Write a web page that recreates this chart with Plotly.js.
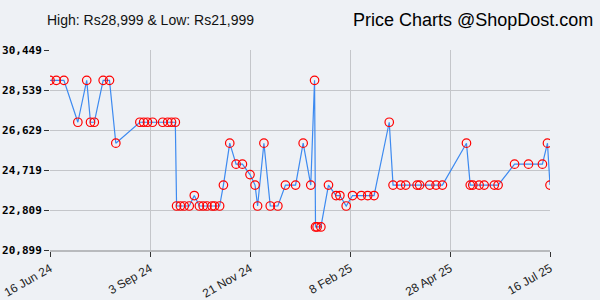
<!DOCTYPE html>
<html>
<head>
<meta charset="utf-8">
<script src="https://cdn.plot.ly/plotly-3.0.1.min.js"></script>
<style>html,body{margin:0;padding:0;background:#eef1f5;}#chart{width:600px;height:300px;}</style>
</head>
<body>
<div id="chart"></div>
<script>
const dates = [
 "2024-06-16","2024-06-21","2024-06-27","2024-07-08","2024-07-15","2024-07-18","2024-07-21","2024-07-28","2024-08-02","2024-08-07",
 "2024-08-26","2024-08-29","2024-09-01","2024-09-05","2024-09-13","2024-09-17","2024-09-20","2024-09-23",
 "2024-09-24","2024-09-27","2024-09-30","2024-10-04","2024-10-08",
 "2024-10-12","2024-10-15","2024-10-18","2024-10-22","2024-10-24","2024-10-28",
 "2024-10-31","2024-11-05","2024-11-10","2024-11-15","2024-11-21","2024-11-25","2024-11-27","2024-12-02",
 "2024-12-07","2024-12-13","2024-12-19","2024-12-27","2025-01-02","2025-01-08","2025-01-11",
 "2025-01-11 18:00","2025-01-13","2025-01-16","2025-01-22","2025-01-28","2025-01-31","2025-02-05",
 "2025-02-10","2025-02-17","2025-02-22","2025-02-27","2025-03-11",
 "2025-03-14","2025-03-20","2025-03-24","2025-04-02","2025-04-04","2025-04-12","2025-04-17","2025-04-22",
 "2025-05-11","2025-05-14","2025-05-16","2025-05-21","2025-05-25","2025-06-02","2025-06-05",
 "2025-06-18","2025-06-29","2025-07-10","2025-07-14","2025-07-16"
];
const prices = [
 28999,28999,28999,26999,28999,26999,26999,28999,28999,25999,
 26999,26999,26999,26999,26999,26999,26999,26999,
 22999,22999,22999,22999,23499,
 22999,22999,22999,22999,22999,22999,
 23999,25999,24999,24999,24499,23999,22999,25999,
 22999,22999,23999,23999,25999,23999,28999,
 21999,21999,21999,23999,23499,23499,22999,
 23499,23499,23499,23499,26999,
 23999,23999,23999,23999,23999,23999,23999,23999,
 25999,23999,23999,23999,23999,23999,23999,
 24999,24999,24999,25999,23999
];
const yTickVals = [20899,22809,24719,26629,28539,30449];
const yTickText = ["20,899","22,809","24,719","26,629","28,539","30,449"];
const xTickVals = ["2024-06-16","2024-09-03","2024-11-21","2025-02-08","2025-04-28","2025-07-16"];
const xTickText = ["16 Jun 24","3 Sep 24","21 Nov 24","8 Feb 25","28 Apr 25","16 Jul 25"];
const titleLeft = "High: Rs28,999 & Low: Rs21,999";
const titleRight = "Price Charts @ShopDost.com";

const trace = {
  x: dates, y: prices, type: "scatter", mode: "lines+markers",
  line: {color: "#3d8af0", width: 1.2},
  marker: {symbol: "circle-open", size: 8.5, color: "#ff0000", line: {width: 1.2, color: "#ff0000"}},
  hoverinfo: "skip"
};
const layout = {
  width: 600, height: 300,
  margin: {l: 50, r: 50, t: 50, b: 50},
  paper_bgcolor: "#eef1f5", plot_bgcolor: "#eef1f5",
  showlegend: false,
  xaxis: {
    type: "date", range: ["2024-06-16","2025-07-16"],
    tickmode: "array", tickvals: xTickVals, ticktext: xTickText,
    tickangle: -30, ticks: "outside", ticklen: 5, tickcolor: "#333",
    showgrid: true, gridcolor: "#c4c6ca", gridwidth: 1,
    showline: true, linecolor: "#b8babd", linewidth: 2,
    zeroline: false,
    tickfont: {family: "Liberation Sans, Arial, sans-serif", size: 12, color: "#222"}
  },
  yaxis: {
    range: [20899, 30449],
    tickmode: "array", tickvals: yTickVals, ticktext: yTickText,
    ticks: "outside", ticklen: 5, tickcolor: "#333",
    showgrid: true, gridcolor: "#c4c6ca", gridwidth: 1,
    showline: false, zeroline: false,
    tickfont: {family: "DejaVu Sans Mono, monospace", size: 11, color: "#000", weight: "bold"}
  },
  annotations: [
    {text: titleLeft, xref: "paper", yref: "paper", x: -0.01, y: 1.15, xanchor: "left", yanchor: "middle",
     showarrow: false, font: {family: "Liberation Sans, Arial, sans-serif", size: 14, color: "#111"}},
    {text: titleRight, xref: "paper", yref: "paper", x: 1.09, y: 1.15, xanchor: "right", yanchor: "middle",
     showarrow: false, font: {family: "Liberation Sans, Arial, sans-serif", size: 18, color: "#000"}}
  ]
};
Plotly.newPlot("chart", [trace], layout, {displayModeBar: false, staticPlot: true});
</script>
</body>
</html>
